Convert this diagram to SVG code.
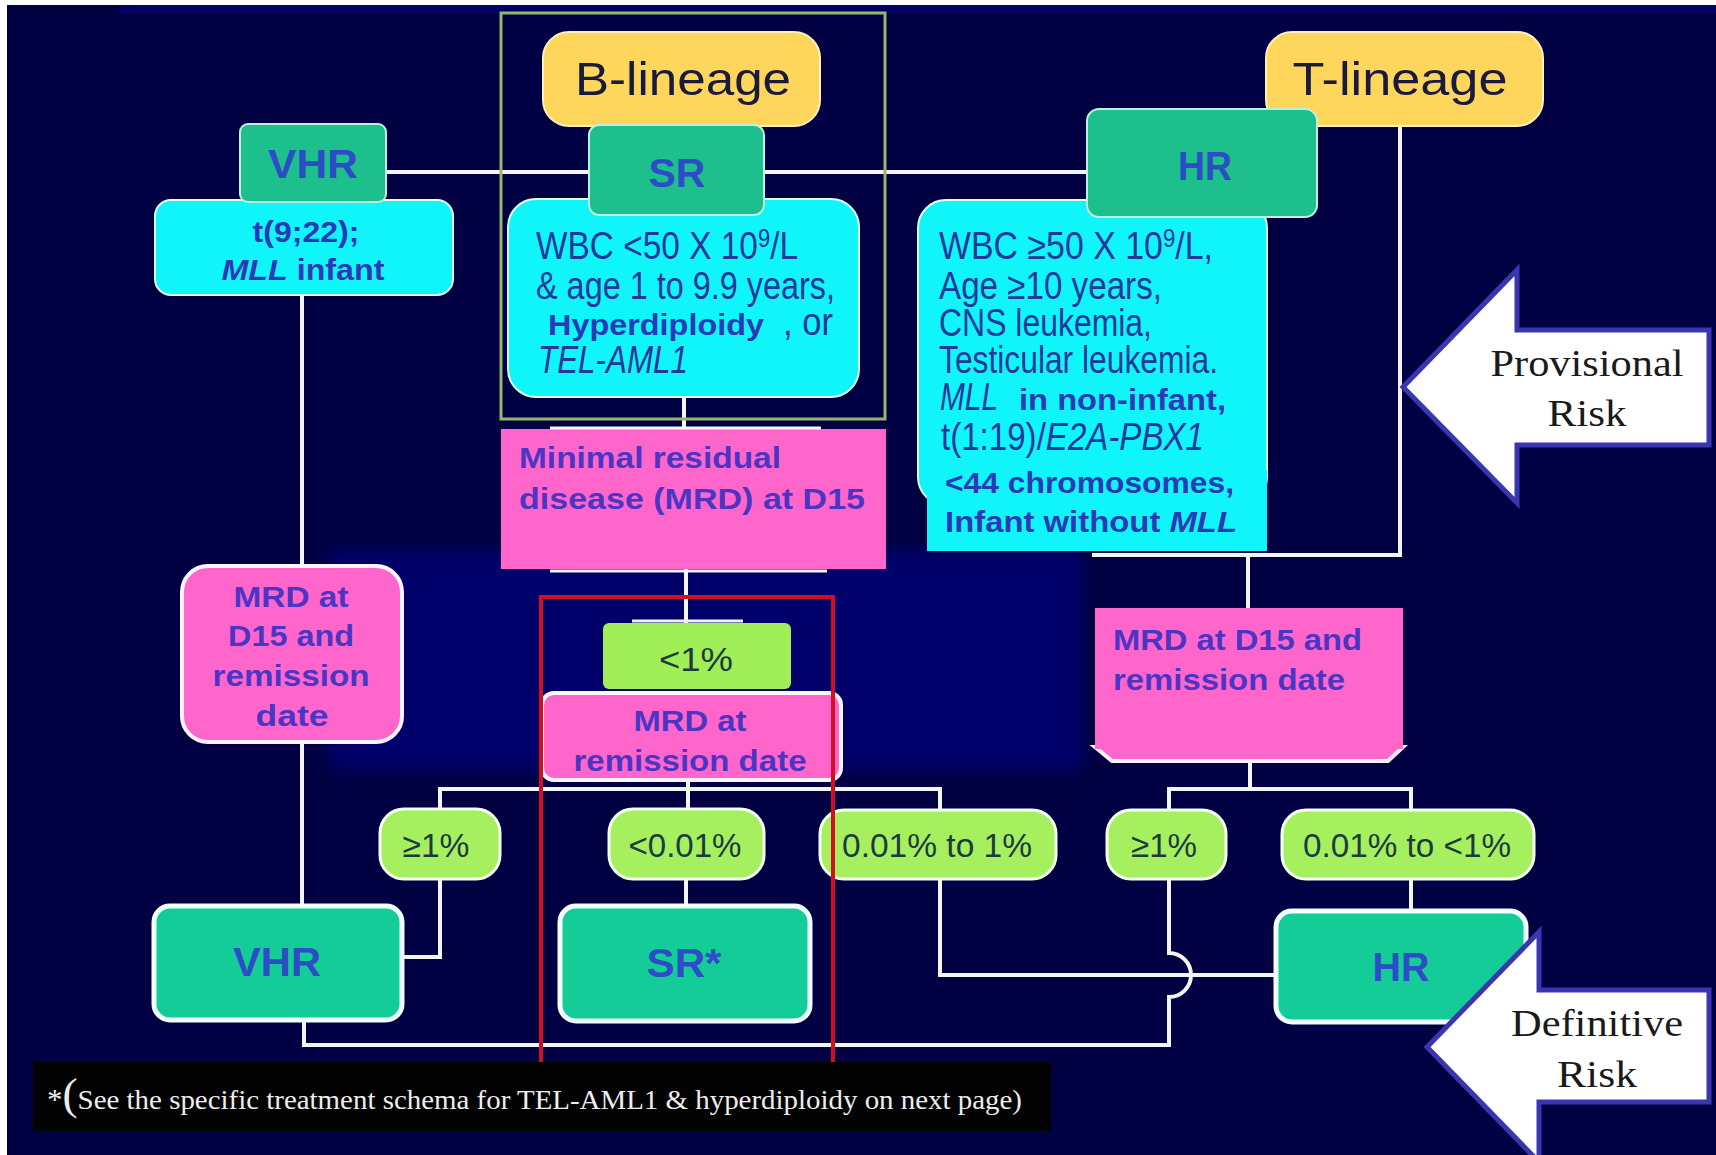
<svg xmlns="http://www.w3.org/2000/svg" width="1716" height="1155" viewBox="0 0 1716 1155">
<defs>
<filter id="soft" x="-10%" y="-10%" width="120%" height="120%"><feGaussianBlur stdDeviation="8"/></filter>
<style>
.sans{font-family:"Liberation Sans",Arial,sans-serif}
.serif{font-family:"Liberation Serif","Times New Roman",serif}
.conn{fill:none;stroke:#F4F4F4;stroke-width:4}
.grn{fill:#1DBF8C;stroke:#BFEFE0;stroke-width:2}
.grnb{fill:#14CC98;stroke:#F2FFFF;stroke-width:5}
.cyan{fill:#0FF5FA;stroke:#DFFFFF;stroke-width:2}
.pink{fill:#FF66CC}
.pinkw{fill:#FF66CC;stroke:#FFF4FF;stroke-width:4}
.pct{fill:#A6F060;stroke:#F4FFF0;stroke-width:3}
.yel{fill:#FFD65C;stroke:#FFF0C0;stroke-width:2}
.arrow{fill:#FFFFFF;stroke:#3A35B0;stroke-width:5;stroke-linejoin:miter}
.risk{font-weight:bold;fill:#2C4DC6;text-anchor:middle;font-size:40px}
.ptxt{font-weight:bold;fill:#4B35C3;font-size:29px}
.ctxt{fill:#22389A;font-size:38px}
.cbold{fill:#2A3AB6;font-weight:bold;font-size:29px}
.pctt{fill:#1D3B3C;font-size:34px;text-anchor:middle}
.lin{fill:#1A1A3C;font-size:46px;text-anchor:middle}
.rk{fill:#1A1A1A;font-size:38px;text-anchor:middle}
</style>
</defs>

<!-- background -->
<rect x="0" y="0" width="1716" height="1155" fill="#FFFFFF"/>
<rect x="7" y="5" width="1709" height="1150" fill="#000042"/>
<rect x="120" y="5" width="1596" height="9" fill="#00006E" opacity="0.8"/>
<rect x="330" y="550" width="752" height="220" fill="#00006A" filter="url(#soft)"/>

<!-- connectors -->
<g id="connectors" class="conn">
<path d="M385,172 H1087"/>
<path d="M302,295 V566"/>
<path d="M302,741 V906"/>
<path d="M684,396 V430"/>
<path d="M686,569 V624"/>
<path d="M688,779 V790"/>
<path d="M440,810 V789 H940 V810"/>
<path d="M688,789 V810"/>
<path d="M440,878 V957 H402"/>
<path d="M686,878 V906"/>
<path d="M940,878 V975 H1276"/>
<path d="M1400,126 V555 H1092"/>
<path d="M1248,555 V609"/>
<path d="M1250,760 V789"/>
<path d="M1169,810 V789 H1411 V810"/>
<path d="M1169,878 V953 A22,22 0 0 1 1169,997 V1045 H304 V1020"/>
<path d="M1411,878 V911"/>
</g>

<!-- B-lineage -->
<g id="b-lineage">
<rect class="yel" x="543" y="32" width="277" height="94" rx="26"/>
<text class="sans lin" x="683" y="95" textLength="216" lengthAdjust="spacingAndGlyphs">B-lineage</text>
</g>

<!-- T-lineage -->
<g id="t-lineage">
<rect class="yel" x="1266" y="32" width="277" height="94" rx="26"/>
<text class="sans lin" x="1400" y="95" textLength="215" lengthAdjust="spacingAndGlyphs">T-lineage</text>
</g>

<!-- VHR provisional -->
<g id="vhr-desc">
<rect class="cyan" x="155" y="200" width="298" height="95" rx="16"/>
<text class="sans cbold" x="306" y="242" text-anchor="middle" textLength="107" lengthAdjust="spacingAndGlyphs">t(9;22);</text>
<text class="sans cbold" x="303" y="280" text-anchor="middle" textLength="163" lengthAdjust="spacingAndGlyphs"><tspan font-style="italic">MLL</tspan> infant</text>
</g>
<g id="vhr-top">
<rect class="grn" x="240" y="124" width="146" height="78" rx="8"/>
<text class="sans risk" x="313" y="178" textLength="90" lengthAdjust="spacingAndGlyphs">VHR</text>
</g>

<!-- SR provisional -->
<g id="sr-desc">
<rect class="cyan" x="508" y="199" width="351" height="198" rx="28"/>
<text class="sans ctxt" x="536" y="259" textLength="262" lengthAdjust="spacingAndGlyphs">WBC &lt;50 X 10<tspan font-size="25" dy="-12">9</tspan><tspan dy="12">/L</tspan></text>
<text class="sans ctxt" x="536" y="299" textLength="299" lengthAdjust="spacingAndGlyphs">&amp; age 1 to 9.9 years,</text>
<text class="sans cbold" x="548" y="335" font-size="31" textLength="216" lengthAdjust="spacingAndGlyphs">Hyperdiploidy</text>
<text class="sans ctxt" x="783" y="335" textLength="50" lengthAdjust="spacingAndGlyphs">, or</text>
<text class="sans ctxt" x="538" y="373" font-style="italic" textLength="150" lengthAdjust="spacingAndGlyphs">TEL-AML1</text>
</g>
<g id="sr-top">
<rect class="grn" x="589" y="125" width="175" height="90" rx="10"/>
<text class="sans risk" x="677" y="187" textLength="57" lengthAdjust="spacingAndGlyphs">SR</text>
</g>

<!-- HR provisional -->
<g id="hr-desc">
<rect class="cyan" x="918" y="200" width="349" height="305" rx="28"/>
<rect fill="#0FF5FA" x="927" y="470" width="340" height="81"/>
<text class="sans ctxt" x="939" y="259" textLength="274" lengthAdjust="spacingAndGlyphs">WBC ≥50 X 10<tspan font-size="25" dy="-12">9</tspan><tspan dy="12">/L,</tspan></text>
<text class="sans ctxt" x="939" y="299" textLength="223" lengthAdjust="spacingAndGlyphs">Age ≥10 years,</text>
<text class="sans ctxt" x="939" y="336" textLength="213" lengthAdjust="spacingAndGlyphs">CNS leukemia,</text>
<text class="sans ctxt" x="939" y="373" textLength="279" lengthAdjust="spacingAndGlyphs">Testicular leukemia.</text>
<text class="sans ctxt" x="940" y="410" font-style="italic" textLength="58" lengthAdjust="spacingAndGlyphs">MLL</text>
<text class="sans cbold" x="1019" y="410" textLength="207" lengthAdjust="spacingAndGlyphs">in non-infant,</text>
<text class="sans ctxt" x="941" y="450" textLength="263" lengthAdjust="spacingAndGlyphs">t(1:19)/<tspan font-style="italic">E2A-PBX1</tspan></text>
<text class="sans cbold" x="945" y="493" textLength="289" lengthAdjust="spacingAndGlyphs">&lt;44 chromosomes,</text>
<text class="sans cbold" x="945" y="532" textLength="292" lengthAdjust="spacingAndGlyphs">Infant without <tspan font-style="italic">MLL</tspan></text>
</g>
<g id="hr-top">
<rect class="grn" x="1087" y="109" width="230" height="108" rx="12"/>
<text class="sans risk" x="1205" y="180" textLength="54" lengthAdjust="spacingAndGlyphs">HR</text>
</g>

<!-- MRD D15 (B-lineage) -->
<g id="mrd-d15">
<rect class="pink" x="501" y="429" width="385" height="140"/>
<path d="M550,428 H821 M550,571 H827" stroke="#FFF4FF" stroke-width="3"/>
<text class="sans ptxt" x="519" y="468" textLength="262" lengthAdjust="spacingAndGlyphs">Minimal residual</text>
<text class="sans ptxt" x="519" y="509" textLength="346" lengthAdjust="spacingAndGlyphs">disease (MRD) at  D15</text>
</g>

<!-- MRD left -->
<g id="mrd-left">
<rect class="pinkw" x="182" y="566" width="220" height="176" rx="26"/>
<g class="sans ptxt" text-anchor="middle">
<text x="291" y="607" textLength="115" lengthAdjust="spacingAndGlyphs">MRD at</text>
<text x="291" y="646" textLength="126" lengthAdjust="spacingAndGlyphs">D15 and</text>
<text x="291" y="686" textLength="157" lengthAdjust="spacingAndGlyphs">remission</text>
<text x="292" y="726" textLength="73" lengthAdjust="spacingAndGlyphs">date</text>
</g>
</g>

<!-- MRD right -->
<g id="mrd-right">
<path class="pinkw" d="M1095,747 L1112,761 H1388 L1403,747 Z"/>
<rect class="pink" x="1095" y="608" width="308" height="141"/>
<text class="sans ptxt" x="1113" y="650" textLength="249" lengthAdjust="spacingAndGlyphs">MRD at D15 and</text>
<text class="sans ptxt" x="1113" y="690" textLength="232" lengthAdjust="spacingAndGlyphs">remission date</text>
</g>

<!-- <1% -->
<g id="lt1">
<path d="M632,621 H743" stroke="#F4F4F4" stroke-width="3"/>
<rect x="603" y="623" width="188" height="66" rx="6" fill="#A0EE58"/>
<text class="sans pctt" x="696" y="671" font-size="38" textLength="74" lengthAdjust="spacingAndGlyphs">&lt;1%</text>
</g>

<!-- MRD at remission date -->
<g id="mrd-rem">
<rect class="pinkw" x="542" y="693" width="299" height="87" rx="12"/>
<text class="sans ptxt" x="690" y="731" text-anchor="middle" textLength="113" lengthAdjust="spacingAndGlyphs">MRD at</text>
<text class="sans ptxt" x="690" y="771" text-anchor="middle" textLength="233" lengthAdjust="spacingAndGlyphs">remission date</text>
</g>

<!-- percentage boxes -->
<g id="ge1-left">
<rect class="pct" x="380" y="809" width="120" height="70" rx="24"/>
<text class="sans pctt" x="436" y="857" textLength="67" lengthAdjust="spacingAndGlyphs">≥1%</text>
</g>
<g id="lt001">
<rect class="pct" x="609" y="809" width="155" height="70" rx="24"/>
<text class="sans pctt" x="685" y="857" textLength="113" lengthAdjust="spacingAndGlyphs">&lt;0.01%</text>
</g>
<g id="r001-1">
<rect class="pct" x="820" y="810" width="236" height="69" rx="24"/>
<text class="sans pctt" x="937" y="857" textLength="190" lengthAdjust="spacingAndGlyphs">0.01% to 1%</text>
</g>
<g id="ge1-right">
<rect class="pct" x="1107" y="810" width="119" height="69" rx="24"/>
<text class="sans pctt" x="1164" y="857" textLength="66" lengthAdjust="spacingAndGlyphs">≥1%</text>
</g>
<g id="r001-lt1">
<rect class="pct" x="1282" y="810" width="252" height="69" rx="24"/>
<text class="sans pctt" x="1407" y="857" textLength="208" lengthAdjust="spacingAndGlyphs">0.01% to &lt;1%</text>
</g>

<!-- definitive risk boxes -->
<g id="vhr-final">
<rect class="grnb" x="154" y="906" width="248" height="114" rx="16"/>
<text class="sans risk" x="277" y="976" textLength="88" lengthAdjust="spacingAndGlyphs">VHR</text>
</g>
<g id="sr-final">
<rect class="grnb" x="560" y="906" width="250" height="115" rx="16"/>
<text class="sans risk" x="684" y="977" textLength="75" lengthAdjust="spacingAndGlyphs">SR*</text>
</g>
<g id="hr-final">
<rect class="grnb" x="1276" y="911" width="250" height="111" rx="16"/>
<text class="sans risk" x="1401" y="981" textLength="57" lengthAdjust="spacingAndGlyphs">HR</text>
</g>

<!-- frames -->
<rect id="b-frame" x="501" y="13" width="384" height="406" fill="none" stroke="#94B868" stroke-width="3"/>
<rect id="sr-frame" x="541" y="597" width="292" height="470" fill="none" stroke="#D01020" stroke-width="4"/>

<!-- arrows -->
<g id="provisional-risk">
<path class="arrow" d="M1403,387 L1517,270 V330 H1709 V445 H1517 V503 Z"/>
<text class="serif rk" x="1587" y="376" textLength="193" lengthAdjust="spacingAndGlyphs">Provisional</text>
<text class="serif rk" x="1587" y="426" textLength="79" lengthAdjust="spacingAndGlyphs">Risk</text>
</g>
<g id="definitive-risk">
<path class="arrow" d="M1427,1047 L1539,932 V990 H1709 V1102 H1539 V1162 Z"/>
<text class="serif rk" x="1597" y="1036" textLength="172" lengthAdjust="spacingAndGlyphs">Definitive</text>
<text class="serif rk" x="1597" y="1087" textLength="80" lengthAdjust="spacingAndGlyphs">Risk</text>
</g>

<!-- footnote -->
<g id="footnote">
<rect x="33" y="1062" width="1018" height="69" fill="#030303"/>
<text class="serif" x="47" y="1109" fill="#EDEDED" font-size="28" textLength="975" lengthAdjust="spacingAndGlyphs"><tspan font-size="30">*</tspan><tspan font-size="44">(</tspan>See the specific treatment schema for TEL-AML1 &amp; hyperdiploidy on next page)</text>
</g>
</svg>
